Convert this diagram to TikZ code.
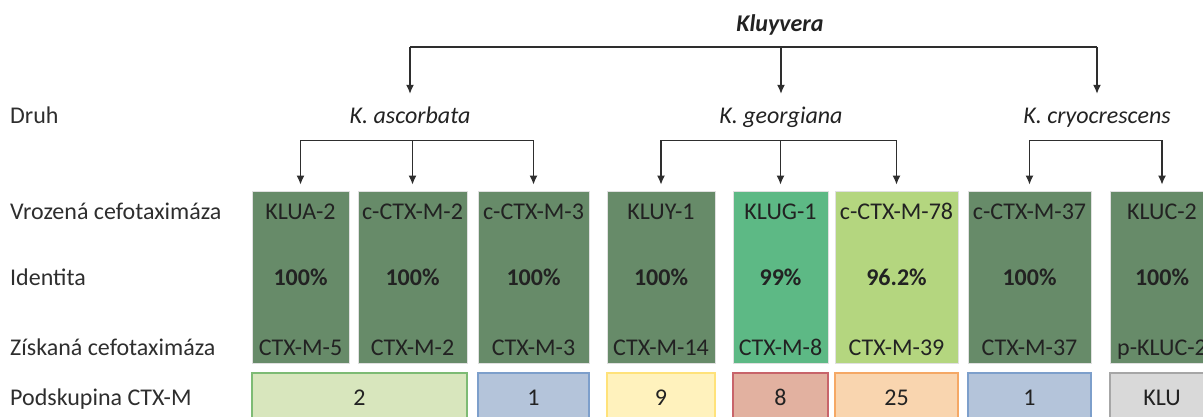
\documentclass[tikz,border=0pt]{standalone}
\usepackage{fontspec}
\setmainfont{Carlito}
\usetikzlibrary{arrows.meta}
\definecolor{dg}{HTML}{678B69}
\definecolor{mg}{HTML}{5DB985}
\definecolor{lg}{HTML}{B4D67F}
\definecolor{txtc}{HTML}{222222}
\definecolor{lnc}{HTML}{2E2E2E}
\definecolor{fA}{HTML}{D8E6BD}\definecolor{dA}{HTML}{7DBB74}
\definecolor{fB}{HTML}{B4C4DA}\definecolor{dB}{HTML}{7D9FCB}
\definecolor{fC}{HTML}{FFF2BD}\definecolor{dC}{HTML}{FFE27A}
\definecolor{fD}{HTML}{E2B1A0}\definecolor{dD}{HTML}{C8646A}
\definecolor{fE}{HTML}{F9D5AF}\definecolor{dE}{HTML}{F5A865}
\definecolor{fG}{HTML}{D9D9D9}\definecolor{dG}{HTML}{A6A6A6}
\begin{document}
\begin{tikzpicture}[x=1pt,y=-1pt,
  every node/.style={font=\fontsize{24}{28}\selectfont, text=txtc},
  rowlbl/.style={anchor=base west, inner sep=0pt, text=lnc},
  sp/.style={anchor=base, inner sep=0pt, inner ysep=11pt, text height=17pt, text depth=5pt, font=\fontsize{24}{28}\selectfont\itshape},
  topbox/.style={draw=black!12, line width=0.8pt, minimum height=172pt, inner sep=0pt},
  subbox/.style={line width=1.4pt, minimum height=57pt, inner sep=0pt},
  intxt/.style={anchor=base, inner sep=0pt},
  pct/.style={anchor=base, inner sep=0pt, font=\fontsize{24}{28}\selectfont\bfseries},
  ln/.style={draw=lnc, line width=1.3pt},
  arr/.style={draw=lnc, line width=1.3pt, -{Latex[length=9pt,width=8pt]}},
]
\useasboundingbox (0,0) rectangle (1203,417);

% title and species
\node[anchor=base, inner sep=0pt, font=\fontsize{24}{28}\selectfont\bfseries\itshape] (klu) at (780,32) {Kluyvera};
\coordinate (top) at (780,47);
\node[sp] (asc) at (410,124) {K. ascorbata};
\node[sp] (geo) at (781,124) {K. georgiana};
\node[sp] (cry) at (1097,124) {K. cryocrescens};

% row labels
\node[rowlbl] (l1) at (10,124) {Druh};
\node[rowlbl] (l2) at (10,219) {Vrozená cefotaximáza};
\node[rowlbl] (l3) at (10,285) {Identita};
\node[rowlbl] (l4) at (10,355) {Získaná cefotaximáza};
\node[rowlbl] (l5) at (10,405) {Podskupina CTX-M};

% top boxes
\node[topbox, fill=dg, minimum width=97pt]  (b1) at (300.5,277) {};
\node[topbox, fill=dg, minimum width=109pt] (b2) at (412.5,277) {};
\node[topbox, fill=dg, minimum width=111pt] (b3) at (533.5,277) {};
\node[topbox, fill=dg, minimum width=108pt] (b4) at (661,277) {};
\node[topbox, fill=mg, minimum width=95pt]  (b5) at (780.5,277) {};
\node[topbox, fill=lg, minimum width=123pt] (b6) at (896.5,277) {};
\node[topbox, fill=dg, minimum width=123pt] (b7) at (1029.5,277) {};
\node[topbox, fill=dg, minimum width=104pt] (b8) at (1162,277) {};

\foreach \b/\ta/\tb/\tc in {b1/KLUA-2/100\%/CTX-M-5, b2/c-CTX-M-2/100\%/CTX-M-2, b3/c-CTX-M-3/100\%/CTX-M-3, b4/KLUY-1/100\%/CTX-M-14, b5/KLUG-1/99\%/CTX-M-8, b6/c-CTX-M-78/96.2\%/CTX-M-39, b7/c-CTX-M-37/100\%/CTX-M-37, b8/KLUC-2/100\%/p-KLUC-2}{
  \node[intxt] (\b a) at (\b.center |- l2.base) {\ta};
  \node[pct]   (\b b) at (\b.center |- l3.base) {\tb};
  \node[intxt] (\b c) at (\b.center |- l4.base) {\tc};
}

% subgroup boxes
\node[subbox, fill=fA, draw=dA, minimum width=215pt] (s1) at (359.5,401.5) {};
\node[subbox, fill=fB, draw=dB, minimum width=111pt] (s2) at (533.5,401.5) {};
\node[subbox, fill=fC, draw=dC, minimum width=108pt] (s3) at (661,401.5) {};
\node[subbox, fill=fD, draw=dD, minimum width=95pt]  (s4) at (780.5,401.5) {};
\node[subbox, fill=fE, draw=dE, minimum width=123pt] (s5) at (896.5,401.5) {};
\node[subbox, fill=fB, draw=dB, minimum width=123pt] (s6) at (1029.5,401.5) {};
\node[subbox, fill=fG, draw=dG, minimum width=104pt] (s7) at (1162,401.5) {};
\foreach \s/\t in {s1/2, s2/1, s3/9, s4/8, s5/25, s6/1, s7/KLU}{
  \node[intxt] (\s t) at (\s.center |- l5.base) {\t};
}

% connectors level 1
\draw[ln] (asc.north |- top) -- (cry.north |- top);
\draw[arr, shorten >=2pt] (asc.north |- top) -- (asc.north);
\draw[arr, shorten >=2pt] (geo.north |- top) -- (geo.north);
\draw[arr, shorten >=2pt] (cry.north |- top) -- (cry.north);

% connectors level 2
\draw[ln] (asc.south -| b1.north) -- (asc.south -| b3.north);
\draw[ln] (geo.south -| b4.north) -- (geo.south -| b6.north);
\draw[ln] (cry.south -| b7.north) -- (cry.south -| b8.north);
\foreach \s/\b in {asc/b1, asc/b2, asc/b3, geo/b4, geo/b5, geo/b6, cry/b7, cry/b8}{
  \draw[arr, shorten >=6pt] (\s.south -| \b.north) -- (\b.north);
}
\end{tikzpicture}
\end{document}
